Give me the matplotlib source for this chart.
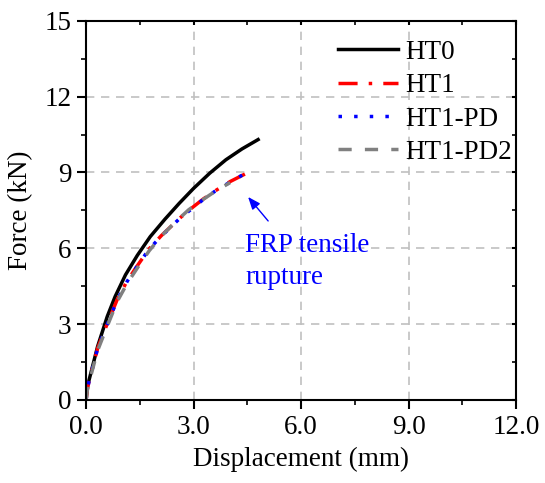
import numpy as np
import matplotlib.pyplot as plt
from matplotlib.ticker import MultipleLocator

plt.rcParams['font.family'] = ['Liberation Serif', 'DejaVu Serif']

# force-displacement curves (mm, kN)
ht0_x = [0, 0.03, 0.13, 0.32, 0.59, 0.81, 1.1, 1.43, 1.79, 2.2, 2.6, 3.0, 3.45, 3.9, 4.35, 4.8]
ht0_y = [0, 0.5, 1.05, 2.11, 3.3, 4.09, 4.95, 5.72, 6.46, 7.15, 7.78, 8.37, 8.97, 9.5, 9.93, 10.3]

ht1_x = [0, 0.03, 0.08, 0.32, 0.5, 0.87, 1.15, 1.43, 1.76, 2.1, 2.62, 3.0, 3.27, 3.6, 4.02, 4.48]
ht1_y = [0, 0.4, 0.73, 2.04, 2.7, 3.98, 4.72, 5.31, 5.98, 6.5, 7.2, 7.65, 7.95, 8.27, 8.64, 8.97]

ht1pd_x = [0, 0.03, 0.08, 0.32, 0.5, 0.87, 1.15, 1.43, 1.76, 2.1, 2.62, 3.0, 3.27, 3.6, 4.02, 4.49]
ht1pd_y = [0, 0.38, 0.73, 2.02, 2.68, 3.96, 4.7, 5.3, 5.97, 6.48, 7.19, 7.62, 7.93, 8.26, 8.62, 9.0]

ht1pd2_x = [0, 0.03, 0.08, 0.32, 0.5, 0.87, 1.15, 1.43, 1.76, 2.11, 2.5, 2.86, 3.2, 3.6, 4.02]
ht1pd2_y = [0, 0.35, 0.68, 1.95, 2.6, 3.9, 4.62, 5.22, 5.9, 6.5, 7.05, 7.52, 7.87, 8.25, 8.6]

fs = 19.5

fig = plt.figure(figsize=(5.45, 4.83), dpi=100)
ax = fig.add_axes([0.158, 0.172, 0.789, 0.785])

ax.plot(ht0_x, ht0_y, color='black', lw=2.5, ls='-', label='HT0')
ax.plot(ht1_x, ht1_y, color='red', lw=2.5, ls=(0, (5.5, 3.2, 1, 3.2)), label='HT1')
ax.plot(ht1pd_x, ht1pd_y, color='blue', lw=2.5, ls=(0, (1, 3.5)), label='HT1-PD')
ax.plot(ht1pd2_x, ht1pd2_y, color='gray', lw=2.5, ls=(0, (3.8, 3.8)), label='HT1-PD2')

ax.set_xlim(0, 12)
ax.set_ylim(0, 15)
ax.xaxis.set_major_locator(MultipleLocator(3))
ax.xaxis.set_minor_locator(MultipleLocator(1.5))
ax.yaxis.set_major_locator(MultipleLocator(3))
ax.yaxis.set_minor_locator(MultipleLocator(1.5))
ax.xaxis.set_major_formatter(plt.FuncFormatter(lambda v, p: '%.1f' % v))
ax.yaxis.set_major_formatter(plt.FuncFormatter(lambda v, p: '%d' % v))

ax.grid(True, which='major', color='#c0c0c0', ls=(0, (5, 4)), lw=1.2)
ax.tick_params(which='major', direction='out', length=6.5, width=1.5, labelsize=fs, pad=4)
ax.tick_params(which='minor', direction='out', length=3.5, width=1.2)
ax.tick_params(which='both', top=True, right=True)
for s in ax.spines.values():
    s.set_linewidth(1.5)
# top/right ticks point inward
for t in ax.xaxis.get_major_ticks() + ax.xaxis.get_minor_ticks():
    t.tick2line.set_marker(3)
    t.tick2line.set_markersize(3)
for t in ax.yaxis.get_major_ticks() + ax.yaxis.get_minor_ticks():
    t.tick2line.set_marker(0)
    t.tick2line.set_markersize(3)

ax.set_xlabel('Displacement (mm)', fontsize=fs, labelpad=5)
ax.set_ylabel('Force (kN)', fontsize=fs, labelpad=8)

ax.text(4.44, 6.62, 'FRP tensile\nrupture', color='blue', fontsize=fs,
        ha='left', va='top', linespacing=1.4)
ax.annotate('', xy=(4.52, 8.03), xytext=(5.08, 7.08),
            arrowprops=dict(arrowstyle='-|>,head_length=0.75,head_width=0.3',
                            color='blue', lw=1, shrinkA=0, shrinkB=0))

ax.legend(loc='upper left', bbox_to_anchor=(0.586, 0.95), frameon=False,
          fontsize=fs, handlelength=2.2, labelspacing=0.31, borderpad=0,
          borderaxespad=0, handletextpad=0.27)

fig.savefig('out.png', dpi=100)
